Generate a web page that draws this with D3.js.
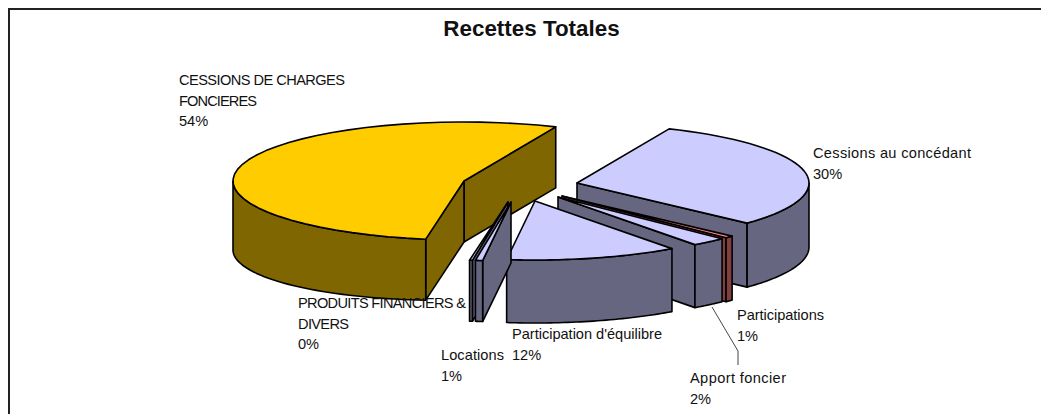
<!DOCTYPE html>
<html><head><meta charset="utf-8">
<script src="https://cdn.jsdelivr.net/npm/d3@7"></script>
<style>html,body{margin:0;padding:0;background:#fff}svg{display:block}text{font-family:"Liberation Sans",Arial,sans-serif;fill:#111}</style>
</head><body><svg id="c" width="1041" height="414"></svg>
<script>
// Data, clockwise from the pie's first angle
const categories = ["Cessions au concédant","Participations","Apport foncier","Participation d'équilibre","Locations","PRODUITS FINANCIERS & DIVERS","CESSIONS DE CHARGES FONCIERES"];
const shares = [30.4,0.6,2.45,12,0.5,0.2,53.85];
const title = "Recettes Totales";

// Layout
const firstAngle = 23.4*Math.PI/180;
const radiiX = [232,232,232,232,232,232,231], ry = 59;
const apexes = [[577,183],[562,196],[558,197],[535,201],[511,202],[508,202],[464,181]];
const depths = [64,64,63,63,61,61,61];
const wallExtra = [0,0,0,0,0,0,8];
const topFill = ["#ccccff","#ff8080","#ccccff","#ccccff","#ccccff","#ccccff","#ffcc00"];
const sideFill = ["#666680","#804040","#666680","#666680","#666680","#666680","#806600"];
const paintOrder = [6,0,1,2,3,5,4];
const labelLayout = [
 {x:813,y:158,lines:[["Cessions au concédant",158]]},
 {x:737,y:320,lines:[["Participations",87]]},
 {x:690,y:383,lines:[["Apport foncier",96]]},
 {x:512,y:339,lines:[["Participation d'équilibre",150]]},
 {x:441,y:360,lines:[["Locations",63]]},
 {x:298,y:308,lines:[["PRODUITS FINANCIERS &",168],["DIVERS",51]]},
 {x:179,y:85,lines:[["CESSIONS DE CHARGES",166],["FONCIERES",78]]}
];
const svg = d3.select("#c");
const line=d3.line();
svg.append("path").attr("d",line([[9,414],[9,9],[1041,9]])).attr("fill","none").attr("stroke","#222").attr("stroke-width",2);
svg.append("text").attr("x",531.5).attr("y",36).attr("text-anchor","middle").attr("font-weight","bold").attr("font-size",22.4).text(title);

const arcs = d3.pie().sort(null).value(d=>d).startAngle(firstAngle).endAngle(firstAngle+2*Math.PI)(shares);
const pt=(i,t,dz=0)=>[apexes[i][0]+radiiX[i]*Math.sin(t),apexes[i][1]-ry*Math.cos(t)+dz];
const arcPts=(i,a,b)=>d3.range(0,41).map(k=>pt(i,a+(b-a)*k/40));
const poly=(g,pts,fill)=>g.append("path").attr("d",line(pts)+"Z").attr("fill",fill).attr("stroke","#000").attr("stroke-width",1.6).attr("stroke-linejoin","round");

paintOrder.forEach(i=>{
  const g=svg.append("g").attr("class","slice");
  const {startAngle:a,endAngle:b}=arcs[i]; const d=depths[i]; const A=apexes[i];
  const radial=t=>{const p=pt(i,t);poly(g,[A,p,[p[0],p[1]+d],[A[0],A[1]+d]],sideFill[i]);};
  if(Math.sin(b)>0) radial(b);
  if(Math.sin(a)<0) radial(a);
  const lo=Math.max(a,Math.PI/2), hi=Math.min(b,1.5*Math.PI);
  if(hi>lo){
    const upper=arcPts(i,lo,hi);
    const lower=d3.range(40,-1,-1).map(k=>pt(i,lo+(hi-lo)*k/40,d+wallExtra[i]*k/40));
    poly(g,[...upper,...lower],sideFill[i]);
  }
  poly(g,[A,...arcPts(i,a,b)],topFill[i]);
});

// leader for Apport foncier
svg.append("path").attr("d",line([[712,307],[738,351],[738,365]])).attr("fill","none").attr("stroke","#444").attr("stroke-width",1);

labelLayout.forEach((l,i)=>{
  const t=svg.append("text").attr("font-size",14.6).attr("class","lab");
  l.lines.forEach(([s,w],k)=>t.append("tspan").attr("x",l.x).attr("y",l.y+k*20.6).attr("textLength",w).attr("lengthAdjust","spacing").text(s));
  t.append("tspan").attr("x",l.x).attr("y",l.y+l.lines.length*20.6).text(Math.round(shares[i])+"%");
});
</script></body></html>
